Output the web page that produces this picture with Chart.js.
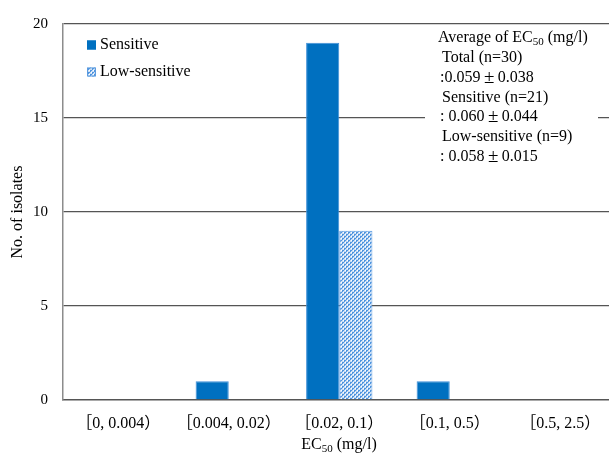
<!DOCTYPE html>
<html>
<head>
<meta charset="utf-8">
<script src="https://cdn.jsdelivr.net/npm/chart.js@4"></script>
<style>
  html, body { margin: 0; padding: 0; overflow: hidden; background: #fff; }
  canvas { display: block; }
</style>
</head>
<body>
<canvas id="c" width="620" height="455"></canvas>
<script>
// EC50 classes (mg/l) and isolate counts per sensitivity group
const categories = ['［0, 0.004）', '［0.004, 0.02）', '［0.02, 0.1）', '［0.1, 0.5）', '［0.5, 2.5）'];
const sensitive = [0, 1, 19, 1, 0];
const lowSensitive = [0, 0, 9, 0, 0];
const yTicks = [0, 5, 10, 15, 20];

const seriesNames = ['Sensitive', 'Low-sensitive'];
// text runs: [text, style] where style is 'n' normal, 's' subscript, 'pm' spaced plus-minus sign
const summaryLines = [
  { x: 438, parts: [['Average of EC', 'n'], ['50', 's'], [' (mg/l)', 'n']] },
  { x: 442, parts: [['Total (n=30)', 'n']] },
  { x: 440, parts: [[':0.059', 'n'], ['±', 'pm'], ['0.038', 'n']] },
  { x: 442, parts: [['Sensitive (n=21)', 'n']] },
  { x: 440, parts: [[': 0.060', 'n'], ['±', 'pm'], ['0.044', 'n']] },
  { x: 442, parts: [['Low-sensitive (n=9)', 'n']] },
  { x: 440, parts: [[': 0.058', 'n'], ['±', 'pm'], ['0.015', 'n']] }
];

const SERIF = '"Liberation Serif", "Times New Roman", "Noto Sans CJK JP", serif';
const BLUE = '#0070C0';
const FS = 16;

// dotted light-blue fill for the low-sensitive bars
function makePattern() {
  const p = document.createElement('canvas');
  p.width = 4; p.height = 4;
  const g = p.getContext('2d');
  g.fillStyle = '#c9ddf4';
  g.fillRect(0, 0, 4, 4);
  g.fillStyle = '#4f94de';
  g.fillRect(0, 0, 2, 1);
  g.fillRect(2, 2, 2, 1);
  g.fillRect(0, 1, 1, 1);
  g.fillRect(2, 3, 1, 1);
  g.fillStyle = '#ffffff';
  g.fillRect(3, 0, 1, 1);
  g.fillRect(1, 2, 1, 1);
  return document.getElementById('c').getContext('2d').createPattern(p, 'repeat');
}
const pattern = makePattern();

function runFont(style, size) {
  if (style === 's') return Math.round(size * 0.68) + 'px ' + SERIF;
  if (style === 'pm') return (size + 3) + 'px ' + SERIF;
  return size + 'px ' + SERIF;
}
function runWidth(ctx, txt, style, size) {
  ctx.font = runFont(style, size);
  return ctx.measureText(txt).width + (style === 'pm' ? 7 : 0);
}
function drawRich(ctx, x, y, parts, size) {
  let cx = x;
  ctx.textAlign = 'left';
  ctx.textBaseline = 'middle';
  for (const [txt, style] of parts) {
    const w = runWidth(ctx, txt, style, size);
    ctx.font = runFont(style, size);
    ctx.fillText(txt, cx + (style === 'pm' ? 3.5 : 0), style === 's' ? y + 4 : y);
    cx += w;
  }
  return cx - x;
}
function measureRich(ctx, parts, size) {
  return parts.reduce((w, [txt, style]) => w + runWidth(ctx, txt, style, size), 0);
}

const decorations = {
  id: 'decorations',
  afterDraw(chart) {
    const ctx = chart.ctx;
    const area = chart.chartArea;
    ctx.save();
    ctx.fillStyle = '#000';

    // axis titles
    const xt = [['EC', 'n'], ['50', 's'], [' (mg/l)', 'n']];
    const w = measureRich(ctx, xt, FS);
    drawRich(ctx, 339 - w / 2, 445, xt, FS);

    ctx.save();
    ctx.translate(18, (area.top + area.bottom) / 2);
    ctx.rotate(-Math.PI / 2);
    ctx.font = FS + 'px ' + SERIF;
    ctx.textAlign = 'center';
    ctx.textBaseline = 'middle';
    ctx.fillText('No. of isolates', 0, 0);
    ctx.restore();

    // legend
    const fills = [BLUE, pattern];
    const borders = [BLUE, '#5b9be0'];
    [45, 72].forEach((cy, i) => {
      ctx.fillStyle = fills[i];
      ctx.fillRect(87, cy - 4.5, 9, 9);
      ctx.strokeStyle = borders[i];
      ctx.lineWidth = 1;
      ctx.strokeRect(87.5, cy - 4, 8, 8);
      ctx.fillStyle = '#000';
      ctx.font = FS + 'px ' + SERIF;
      ctx.textAlign = 'left';
      ctx.textBaseline = 'middle';
      ctx.fillText(seriesNames[i], 100, cy);
    });

    // summary box
    ctx.fillStyle = '#fff';
    ctx.fillRect(425, 26, 173, 144);
    ctx.fillStyle = '#000';
    summaryLines.forEach((ln, i) => {
      drawRich(ctx, ln.x, 38 + i * 19.8, ln.parts, FS);
    });
    ctx.restore();
  }
};

new Chart(document.getElementById('c'), {
  type: 'bar',
  data: {
    labels: categories,
    datasets: [
      {
        label: seriesNames[0],
        data: sensitive,
        backgroundColor: BLUE,
        borderColor: '#3f8fd8',
        borderWidth: 1
      },
      {
        label: seriesNames[1],
        data: lowSensitive,
        backgroundColor: pattern,
        borderColor: '#5b9be0',
        borderWidth: 1
      }
    ]
  },
  options: {
    responsive: false,
    animation: false,
    devicePixelRatio: 1,
    layout: { padding: { left: 0, right: 4.5, top: 18, bottom: 0 } },
    datasets: { bar: { barPercentage: 1, categoryPercentage: 0.6 } },
    plugins: { legend: { display: false }, tooltip: { enabled: false } },
    scales: {
      x: {
        grid: { display: false, drawTicks: false },
        border: { color: '#555', width: 1.5 },
        ticks: {
          color: '#000',
          font: { family: SERIF, size: FS },
          padding: 14,
          maxRotation: 0,
          autoSkip: false
        },
        afterFit(s) { s.height = 55; }
      },
      y: {
        min: 0,
        max: 20,
        afterBuildTicks(s) { s.ticks = yTicks.map(v => ({ value: v })); },
        grid: {
          color: (c) => c.tick && c.tick.value === 0 ? 'rgba(0,0,0,0)' : '#555',
          lineWidth: 1.3,
          drawTicks: false
        },
        border: { color: '#8c8c8c', width: 1.5 },
        ticks: {
          color: '#000',
          font: { family: SERIF, size: 15 },
          padding: 15
        },
        afterFit(s) { s.width = 63; }
      }
    }
  },
  plugins: [decorations]
});
</script>
</body>
</html>
